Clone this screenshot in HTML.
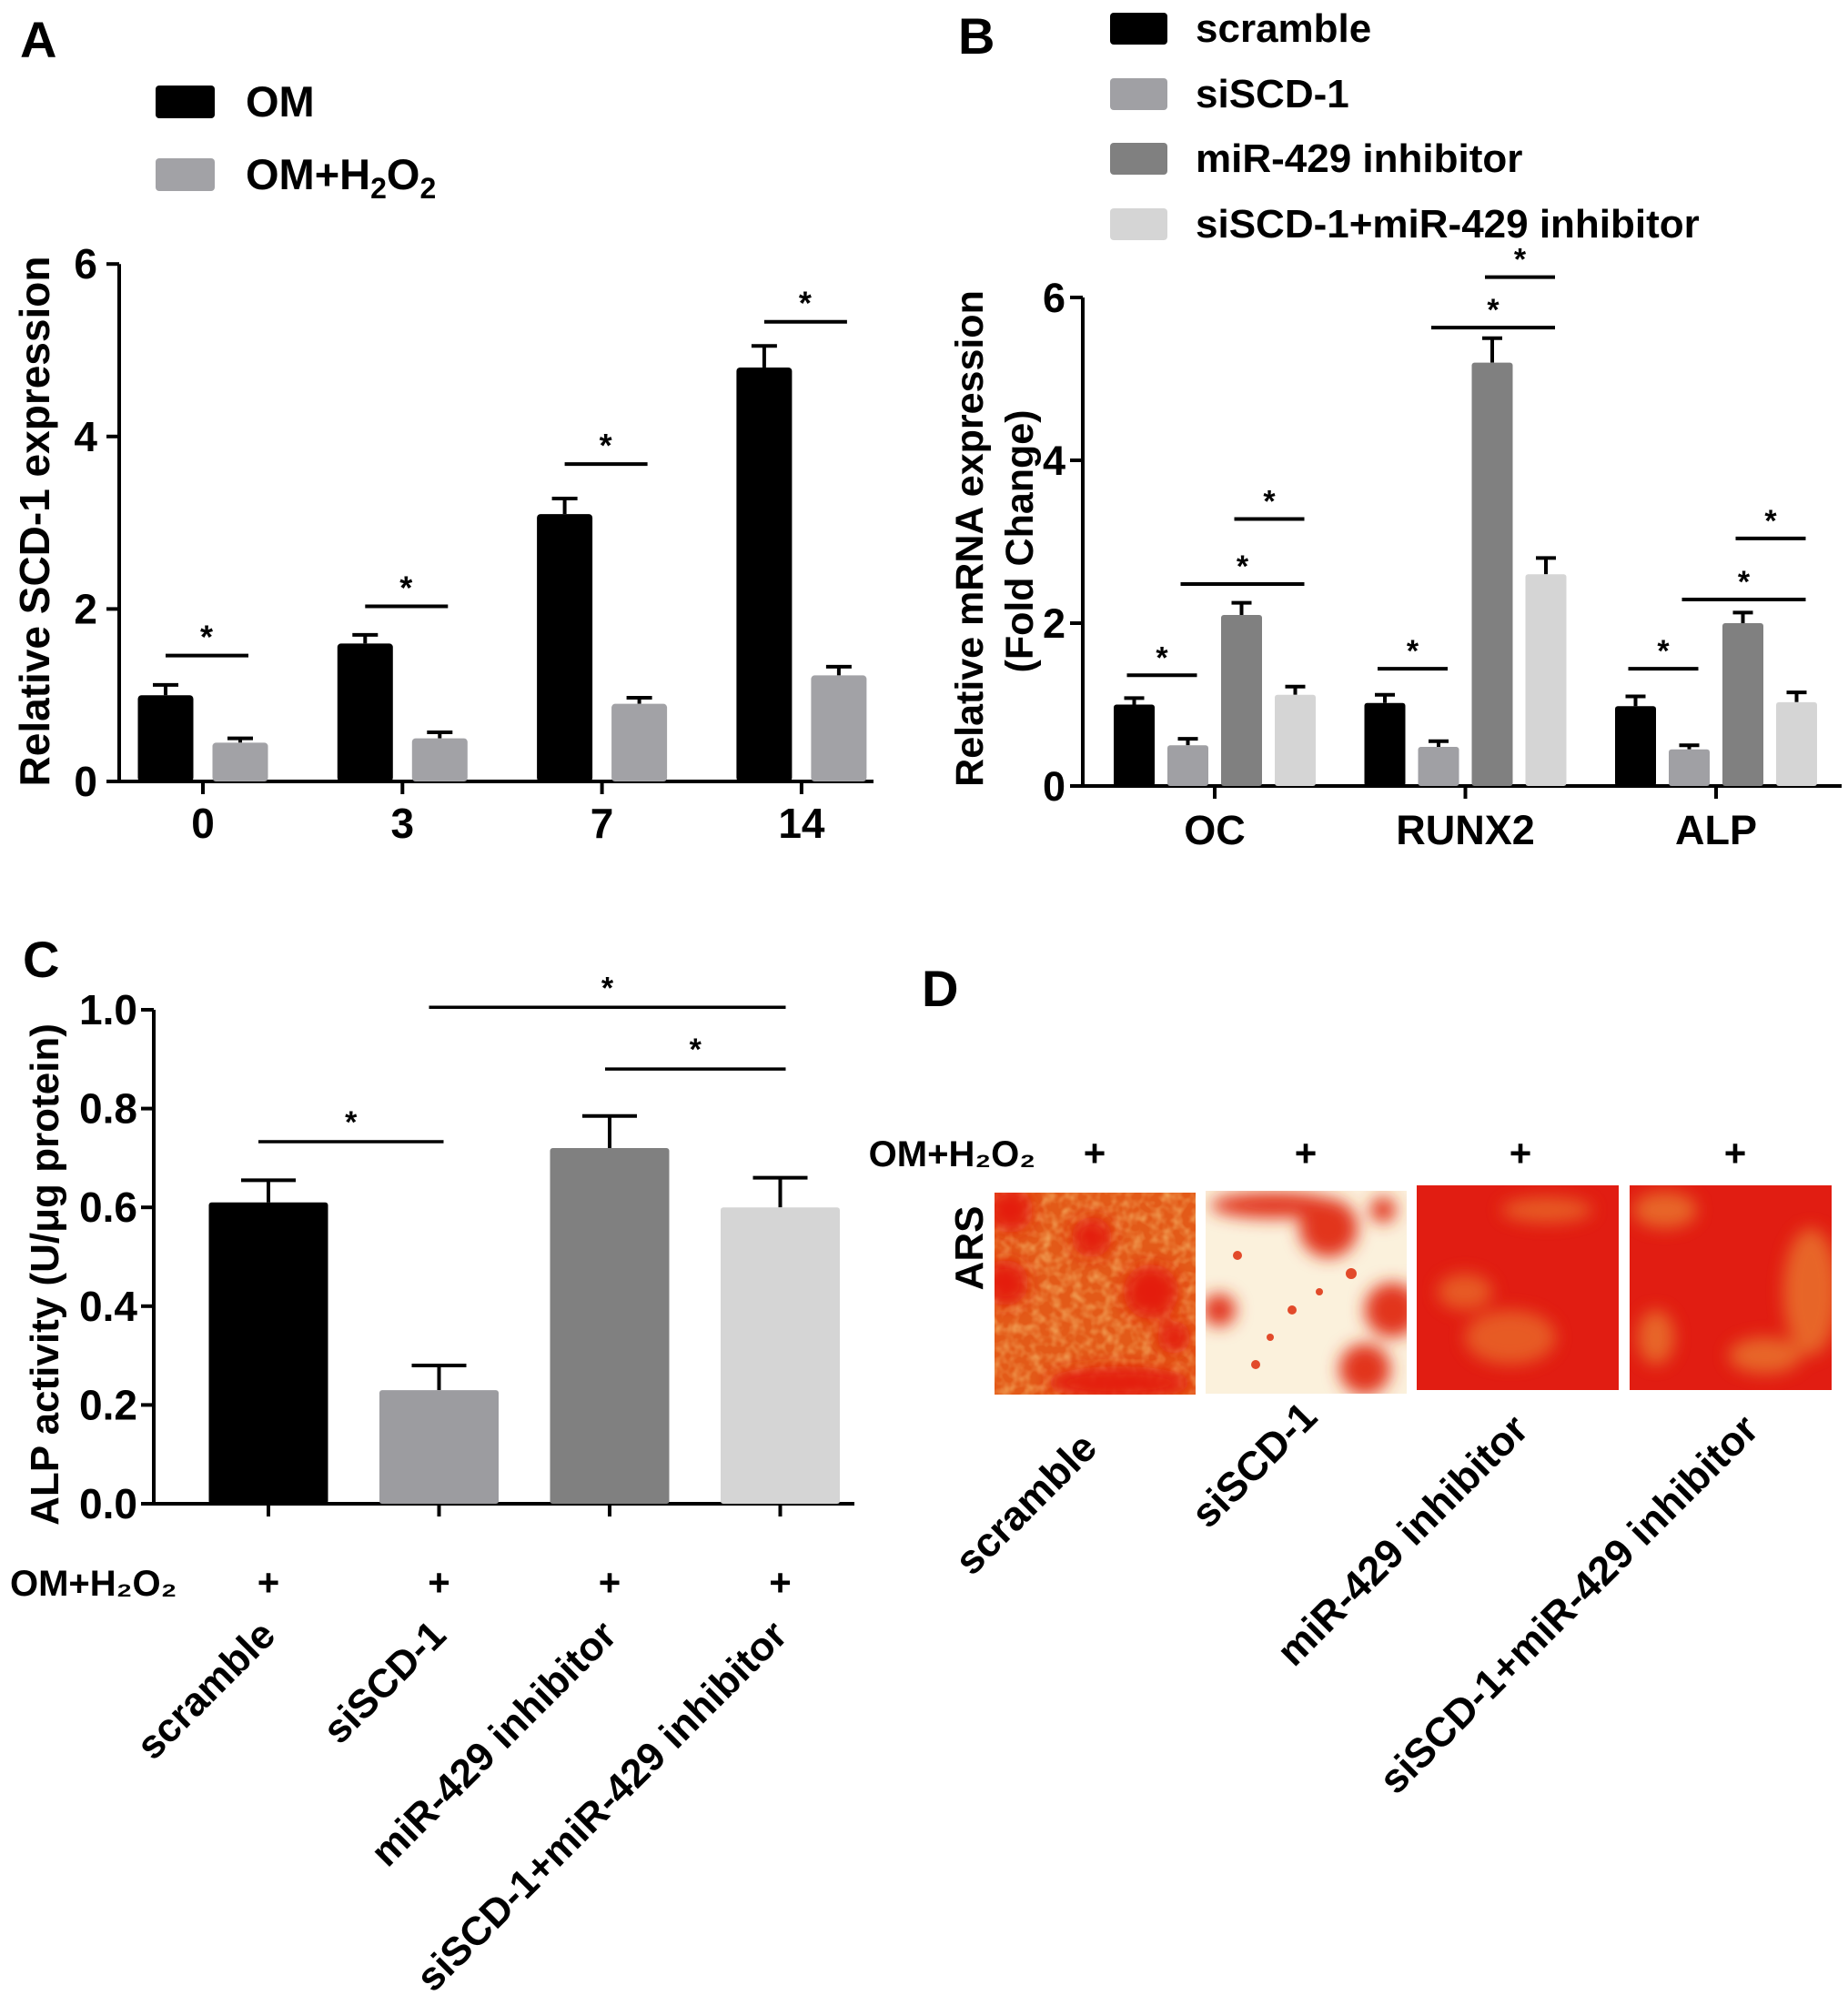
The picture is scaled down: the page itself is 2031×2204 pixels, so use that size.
<!DOCTYPE html>
<html><head><meta charset="utf-8"><style>
html,body{margin:0;padding:0;background:#fff}
svg{display:block}
text{font-family:"Liberation Sans",Arial,sans-serif;font-weight:bold;fill:#000}
</style></head><body>
<svg id="fig" width="2031" height="2204" viewBox="0 0 2031 2204" xmlns="http://www.w3.org/2000/svg">
<defs>
<filter id="tex" x="0" y="0" width="100%" height="100%"><feTurbulence type="fractalNoise" baseFrequency="0.09" numOctaves="2" seed="3"/><feColorMatrix values="0 0 0 0 0.95  0 0 0 0 0.6  0 0 0 0 0.2  0 0 0 1.6 -0.6"/></filter>
<filter id="blur"><feGaussianBlur stdDeviation="9"/></filter>
<clipPath id="c1"><rect x="1093" y="1311" width="221" height="222"/></clipPath>
<clipPath id="c2"><rect x="1325" y="1309" width="221" height="223"/></clipPath>
<clipPath id="c3"><rect x="1557" y="1303" width="222" height="225"/></clipPath>
<clipPath id="c4"><rect x="1791" y="1303" width="222" height="225"/></clipPath>
</defs>
<g id="panelA"></g>
<g id="panelB"></g>
<g id="panelC"></g>
<g id="panelD">
<text x="1013" y="1106" font-size="56">D</text>
<text x="1138" y="1282" font-size="40" text-anchor="end">OM+H₂O₂</text>
<text x="1203" y="1282" font-size="42" text-anchor="middle">+</text>
<text x="1435" y="1282" font-size="42" text-anchor="middle">+</text>
<text x="1671" y="1282" font-size="42" text-anchor="middle">+</text>
<text x="1907" y="1282" font-size="42" text-anchor="middle">+</text>
<text transform="translate(1080,1372) rotate(-90)" font-size="44" text-anchor="middle">ARS</text>
<g clip-path="url(#c1)">
<rect x="1093" y="1311" width="221" height="222" fill="#e35a18"/>
<rect x="1093" y="1311" width="221" height="222" filter="url(#tex)" opacity="0.7"/>
<g filter="url(#blur)" fill="#e41e10"><circle cx="1110" cy="1330" r="25"/><circle cx="1200" cy="1360" r="22"/><circle cx="1265" cy="1420" r="30"/><circle cx="1105" cy="1410" r="25"/><ellipse cx="1230" cy="1520" rx="80" ry="18"/><circle cx="1290" cy="1470" r="18"/></g>
</g>
<g clip-path="url(#c2)">
<rect x="1325" y="1309" width="221" height="223" fill="#fbf1dc"/>
<g fill="#e2361a" filter="url(#blur)"><circle cx="1460" cy="1350" r="32"/><circle cx="1530" cy="1440" r="30"/><circle cx="1500" cy="1505" r="28"/><circle cx="1340" cy="1440" r="18"/><ellipse cx="1400" cy="1325" rx="70" ry="14"/><circle cx="1520" cy="1330" r="14"/></g>
<g fill="#e24a2a"><circle cx="1360" cy="1380" r="5"/><circle cx="1420" cy="1440" r="5"/><circle cx="1396" cy="1470" r="4"/><circle cx="1450" cy="1420" r="4"/><circle cx="1380" cy="1500" r="5"/><circle cx="1485" cy="1400" r="6"/></g>
</g>
<g clip-path="url(#c3)">
<rect x="1557" y="1303" width="222" height="225" fill="#e11d12"/>
<g filter="url(#blur)" fill="#e9702a" opacity="0.75"><ellipse cx="1660" cy="1470" rx="50" ry="30"/><ellipse cx="1700" cy="1330" rx="50" ry="14"/><ellipse cx="1610" cy="1420" rx="30" ry="20"/></g>
</g>
<g clip-path="url(#c4)">
<rect x="1791" y="1303" width="222" height="225" fill="#e11d12"/>
<g filter="url(#blur)" fill="#e9782e" opacity="0.8"><ellipse cx="1990" cy="1420" rx="30" ry="70"/><ellipse cx="1830" cy="1330" rx="35" ry="20"/><ellipse cx="1940" cy="1490" rx="40" ry="20"/><ellipse cx="1820" cy="1470" rx="20" ry="30"/></g>
</g>
<text transform="translate(1208,1594) rotate(-45)" font-size="45" text-anchor="end">scramble</text>
<text transform="translate(1450,1560) rotate(-45)" font-size="45" text-anchor="end">siSCD-1</text>
<text transform="translate(1682,1574) rotate(-45)" font-size="45" text-anchor="end">miR-429 inhibitor</text>
<text transform="translate(1935,1574) rotate(-45)" font-size="45" text-anchor="end">siSCD-1+miR-429 inhibitor</text>
</g>
</svg>
<script>
const NS="http://www.w3.org/2000/svg";
// ---- Panel A data ----
const aCategories=["0","3","7","14"];
const aSeriesNames=["OM","OM+H2O2"];
const aOM=[1.0,1.6,3.1,4.8];
const aOMErr=[0.12,0.1,0.18,0.25];
const aH2O2=[0.45,0.5,0.9,1.23];
const aH2O2Err=[0.05,0.07,0.07,0.1];
const aTicks=[0,2,4,6];
const aSigY=[1.46,2.03,3.68,5.33];
// ---- Panel B data ----
const bCategories=["OC","RUNX2","ALP"];
const bSeriesNames=["scramble","siSCD-1","miR-429 inhibitor","siSCD-1+miR-429 inhibitor"];
const bScramble=[1.0,1.02,0.98];
const bSiSCD=[0.5,0.48,0.45];
const bMir=[2.1,5.2,2.0];
const bCombo=[1.12,2.6,1.03];
const bErr=[[0.08,0.1,0.12],[0.08,0.07,0.05],[0.15,0.3,0.13],[0.1,0.2,0.12]];
const bTicks=[0,2,4,6];
const bSig=[[1.36,2.48,3.28],[1.44,5.63,6.25],[1.44,2.29,3.04]];
// ---- Panel C data ----
const cCategories=["scramble","siSCD-1","miR-429 inhibitor","siSCD-1+miR-429 inhibitor"];
const cValues=[0.61,0.23,0.72,0.60];
const cErr=[0.045,0.05,0.065,0.06];
const cTicks=["0.0","0.2","0.4","0.6","0.8","1.0"];
const cSig=[0.733,1.005,0.88];

function el(parent,tag,attrs,txt){const e=document.createElementNS(NS,tag);for(const k in attrs)e.setAttribute(k,attrs[k]);if(txt!==undefined)e.textContent=txt;parent.appendChild(e);return e;}
function line(p,x1,y1,x2,y2,w){return el(p,"line",{x1:x1,y1:y1,x2:x2,y2:y2,stroke:"#000","stroke-width":w||4});}

// ===== Panel A =====
(function(){
const g=document.getElementById("panelA");
const y0=859,ppu=94.8,axX=131,centers0=223,step=219.3,bw=61,gap=21;
const Y=v=>y0-v*ppu;
const X=i=>centers0+i*step;
let t=el(g,"text",{x:22,y:63,"font-size":56});t.textContent="A";

const legCols=["#000","#a2a2a6"];
const legY=[94,174];
aSeriesNames.forEach((n,i)=>{
 const r=el(g,"rect",{x:171,y:legY[i],width:65,height:36,rx:4,fill:legCols[i]});
 
 const tx=el(g,"text",{x:270,y:legY[i]+34,"font-size":47});
 if(i===0)tx.textContent="OM";else tx.innerHTML='OM+H<tspan font-size="32" dy="10">2</tspan><tspan dy="-10">O</tspan><tspan font-size="32" dy="10">2</tspan>';
 
});
let ax=line(g,axX,Y(6),axX,y0+2);
let xa=line(g,axX-2,y0,960,y0);
aTicks.forEach(v=>{line(g,axX-14,Y(v),axX,Y(v));
 const tt=el(g,"text",{x:107,y:Y(v)+16,"font-size":46,"text-anchor":"end"},String(v));
 });
const yt=el(g,"text",{transform:"translate(54,573) rotate(-90)","font-size":46,"text-anchor":"middle"},"Relative SCD-1 expression");

aCategories.forEach((c,i)=>{
 const cx=X(i);line(g,cx,y0,cx,y0+14);
 const lt=el(g,"text",{x:cx,y:921,"font-size":46,"text-anchor":"middle"},c);
 
 [[aOM,aOMErr,"#000"],[aH2O2,aH2O2Err,"#a2a2a6"]].forEach((s,j)=>{
  const bx=j===0?cx-gap/2-bw:cx+gap/2;const v=s[0][i],e=s[1][i];
  line(g,bx+bw/2,Y(v),bx+bw/2,Y(v+e));line(g,bx+bw/2-14,Y(v+e),bx+bw/2+14,Y(v+e));
  const b=el(g,"rect",{x:bx,y:Y(v),width:bw,height:v*ppu,rx:4,fill:s[2]});
  
 });
 const sy=Y(aSigY[i]);const sl=line(g,cx-41,sy,cx+50,sy);
 
 const st=el(g,"text",{x:cx+4,y:sy-8,"font-size":36,"font-weight":"normal","text-anchor":"middle"},"*");
 
});
})();

// ===== Panel B =====
(function(){
const g=document.getElementById("panelB");
const y0=864,ppu=89.5,axX=1190,c0=1335,step=275.5,bw=45,bstep=59;
const Y=v=>y0-v*ppu;const X=i=>c0+i*step;
const cols=["#000","#a0a0a4","#808080","#d5d5d5"];
let t=el(g,"text",{x:1053,y:59,"font-size":56},"B");

const ly=[14,86,157,229];
bSeriesNames.forEach((n,i)=>{
 const r=el(g,"rect",{x:1220,y:ly[i],width:63,height:35,rx:4,fill:cols[i]});
 
 const tx=el(g,"text",{x:1314,y:ly[i]+32,"font-size":44},n);
 
});
let ax=line(g,axX,Y(6),axX,y0+2);
let xa=line(g,axX-2,y0,2024,y0);
bTicks.forEach(v=>{line(g,axX-14,Y(v),axX,Y(v));
 const tt=el(g,"text",{x:1171,y:Y(v)+16,"font-size":45,"text-anchor":"end"},String(v));
 });
const y1=el(g,"text",{transform:"translate(1080,592) rotate(-90)","font-size":43,"text-anchor":"middle"},"Relative mRNA expression");

const y2=el(g,"text",{transform:"translate(1135,595) rotate(-90)","font-size":43,"text-anchor":"middle"},"(Fold Change)");

const series=[bScramble,bSiSCD,bMir,bCombo];
bCategories.forEach((c,i)=>{
 const cx=X(i);line(g,cx,y0,cx,y0+14);
 const lt=el(g,"text",{x:cx,y:928,"font-size":45,"text-anchor":"middle"},c);
 
 const bc=[];
 series.forEach((s,j)=>{
  const bxc=cx+(j-1.5)*bstep;bc.push(bxc);const v=s[i],e=bErr[j][i];
  line(g,bxc,Y(v),bxc,Y(v+e));line(g,bxc-11,Y(v+e),bxc+11,Y(v+e));
  const b=el(g,"rect",{x:bxc-bw/2,y:Y(v),width:bw,height:v*ppu,rx:3,fill:cols[j]});
  
 });
 const pairs=[[0,1],[1,3],[2,3]];
 pairs.forEach((p,k)=>{
  const sy=Y(bSig[i][k]);const x1=bc[p[0]]-8,x2=bc[p[1]]+10;
  const sl=line(g,x1,sy,x2,sy);
  const st=el(g,"text",{x:(x1+x2)/2,y:sy-8,"font-size":34,"font-weight":"normal","text-anchor":"middle"},"*");
  
 });
});
})();

// ===== Panel C =====
(function(){
const g=document.getElementById("panelC");
const y0=1653,ppu=543,axX=169,c0=295,step=187.5,bw=131;
const Y=v=>y0-v*ppu;const X=i=>c0+i*step;
const cols=["#000","#9c9ca0","#808080","#d5d5d5"];
let t=el(g,"text",{x:25,y:1074,"font-size":56},"C");

let ax=line(g,axX,Y(1),axX,y0+2);
let xa=line(g,axX-2,y0,939,y0);
cTicks.forEach(s=>{const v=parseFloat(s);line(g,axX-14,Y(v),axX,Y(v));
 const tt=el(g,"text",{x:151,y:Y(v)+16,"font-size":46,"text-anchor":"end"},s);
 });
const yt=el(g,"text",{transform:"translate(64,1401) rotate(-90)","font-size":44,"text-anchor":"middle"},"ALP activity (U/μg protein)");

const rl=el(g,"text",{x:11,y:1754,"font-size":40},"OM+H₂O₂");

cCategories.forEach((c,i)=>{
 const cx=X(i),v=cValues[i],e=cErr[i];
 line(g,cx,y0,cx,y0+14);
 line(g,cx,Y(v),cx,Y(v+e));line(g,cx-30,Y(v+e),cx+30,Y(v+e));
 const b=el(g,"rect",{x:cx-bw/2,y:Y(v),width:bw,height:v*ppu,rx:3,fill:cols[i]});
 
 const p=el(g,"text",{x:cx,y:1754,"font-size":42,"text-anchor":"middle"},"+");
 
 const lt=el(g,"text",{transform:"translate("+(cx+10)+",1800) rotate(-45)","font-size":44,"text-anchor":"end"},c);
 
});
const pairs=[[0,1],[1,3],[2,3]];
pairs.forEach((p,k)=>{
 const sy=Y(cSig[k]);const x1=X(p[0])-(k===2?5:11),x2=X(p[1])+(k===0?5:6);
 const sl=line(g,x1,sy,x2,sy,3.5);
 const st=el(g,"text",{x:(x1+x2)/2,y:sy-10,"font-size":34,"font-weight":"normal","text-anchor":"middle"},"*");
 
});
})();
</script>
</body></html>
